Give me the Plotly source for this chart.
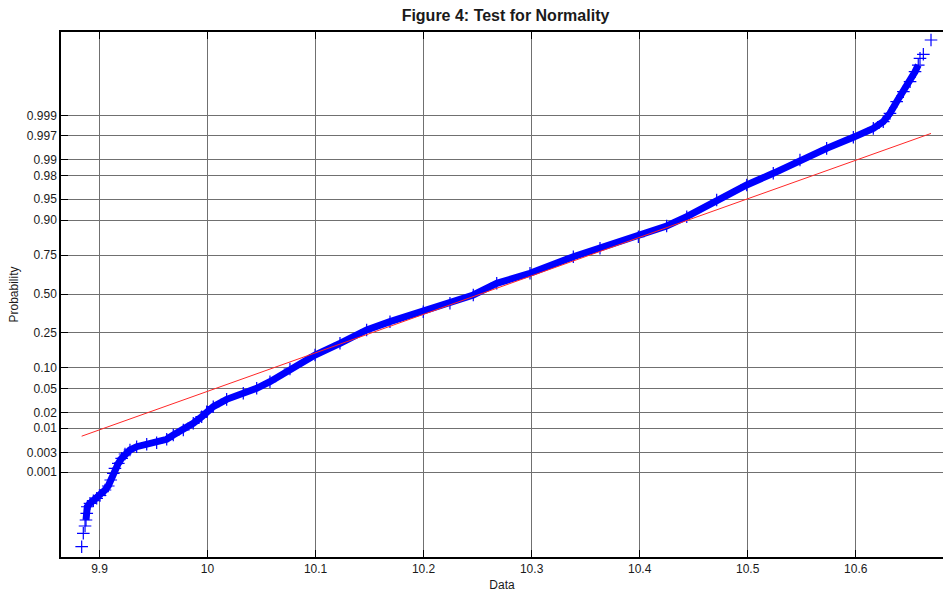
from statistics import NormalDist
import plotly.graph_objects as go

# ---- data (sorted sample values and their normal quantiles) ----
data_values = [
    9.8835, 9.8850, 9.8866, 9.8875, 9.8882, 9.8887, 9.8912, 9.8943, 9.8974, 9.9005,
    9.9051, 9.9081, 9.9104, 9.9128, 9.9143, 9.9174, 9.9205, 9.9236, 9.9282, 9.9344,
    9.9437, 9.9529, 9.9622, 9.9683, 9.9776, 9.9868, 9.9946, 9.9992, 10.0053, 10.0177,
    10.0331, 10.0455, 10.0578, 10.0763, 10.0995, 10.1226, 10.1473, 10.1689, 10.1997, 10.2244,
    10.2460, 10.2677, 10.2985, 10.3386, 10.3633, 10.3988, 10.4250, 10.4436, 10.4713, 10.4991,
    10.5237, 10.5484, 10.5731, 10.5978, 10.6163, 10.6255, 10.6317, 10.6379, 10.6441, 10.6503,
    10.6549, 10.6579, 10.6595, 10.6626, 10.6697,
]
normal_quantiles = [
    -4.383, -4.151, -4.024, -3.920, -3.804, -3.690, -3.631, -3.585, -3.544, -3.495,
    -3.400, -3.330, -3.226, -3.110, -3.023, -2.937, -2.850, -2.775, -2.706, -2.649,
    -2.607, -2.579, -2.520, -2.446, -2.359, -2.243, -2.128, -2.042, -1.955, -1.827,
    -1.722, -1.636, -1.521, -1.301, -1.058, -0.855, -0.624, -0.480, -0.307, -0.161,
    -0.017, 0.186, 0.359, 0.647, 0.793, 0.994, 1.180, 1.341, 1.631, 1.891,
    2.094, 2.324, 2.527, 2.718, 2.874, 2.989, 3.134, 3.336, 3.509, 3.683,
    3.856, 3.972, 4.088, 4.158, 4.406,
]

# reference normal fit line (through the quartiles)
fit_mu = 10.2527
fit_sigma = 0.1497

prob_ticks = [0.001, 0.003, 0.01, 0.02, 0.05, 0.10, 0.25, 0.50, 0.75, 0.90, 0.95, 0.98, 0.99, 0.997, 0.999]
prob_labels = ["0.001", "0.003", "0.01", "0.02", "0.05", "0.10", "0.25", "0.50", "0.75", "0.90",
               "0.95", "0.98", "0.99", "0.997", "0.999"]
x_ticks = [9.9, 10.0, 10.1, 10.2, 10.3, 10.4, 10.5, 10.6]
x_labels = ["9.9", "10", "10.1", "10.2", "10.3", "10.4", "10.5", "10.6"]

x_range = [9.86436, 10.6808]
y_range = [-4.562, 4.545]

nd = NormalDist()
y_tickvals = [nd.inv_cdf(p) for p in prob_ticks]

BLUE = "rgb(0,0,255)"
FONT = "Liberation Sans, Arial, sans-serif"

fig = go.Figure()

# dense band of sample points (core region)
fig.add_trace(go.Scatter(
    x=data_values[3:-3], y=normal_quantiles[3:-3], mode="lines",
    line=dict(color=BLUE, width=7), hoverinfo="skip", showlegend=False,
))
# individual '+' markers
fig.add_trace(go.Scatter(
    x=data_values, y=normal_quantiles, mode="markers",
    marker=dict(symbol="cross-thin", size=9, line=dict(color=BLUE, width=1.2), color=BLUE),
    showlegend=False,
))
# fitted line
xmin, xmax = min(data_values), max(data_values)
fig.add_trace(go.Scatter(
    x=[xmin, xmax], y=[(xmin - fit_mu) / fit_sigma, (xmax - fit_mu) / fit_sigma],
    mode="lines", line=dict(color="rgb(255,40,40)", width=1), showlegend=False,
))

axis_common = dict(
    showgrid=True, gridcolor="#707070", gridwidth=1,
    zeroline=False, showline=True, linecolor="black", linewidth=1.5,
    ticks="inside", ticklen=7, tickcolor="black", tickwidth=1,
    tickfont=dict(family=FONT, size=12, color="#1a1a1a"),
)

fig.update_xaxes(
    range=x_range, tickvals=x_ticks, ticktext=x_labels, mirror="ticks",
    title=dict(text="Data", font=dict(family=FONT, size=12, color="#1a1a1a"), standoff=5),
    **axis_common,
)
fig.update_yaxes(
    range=y_range, tickvals=y_tickvals, ticktext=prob_labels, mirror=False,
    title=dict(text="Probability", font=dict(family=FONT, size=12, color="#1a1a1a"), standoff=6),
    **axis_common,
)

fig.update_layout(
    width=943, height=592,
    margin=dict(l=61, r=0, t=32, b=35),
    paper_bgcolor="white", plot_bgcolor="white",
    title=dict(text="<b>Figure 4: Test for Normality</b>", xref="container", yref="container",
               x=505.5 / 943, y=1 - 15 / 592, xanchor="center", yanchor="middle",
               font=dict(family=FONT, size=16, color="#1a1a1a")),
    showlegend=False,
)

fig.write_html("out.html")
